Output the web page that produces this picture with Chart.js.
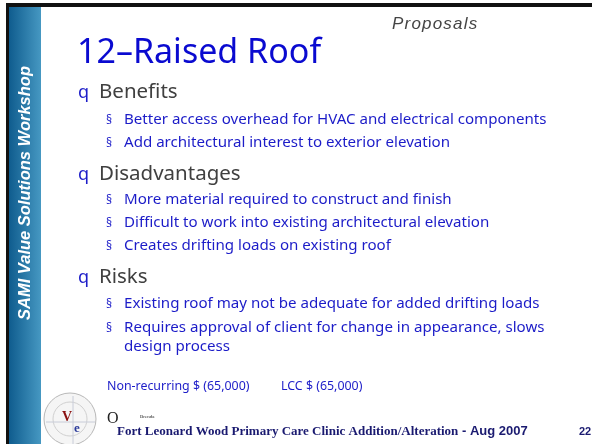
<!DOCTYPE html>
<html>
<head>
<meta charset="utf-8">
<script src="https://cdn.jsdelivr.net/npm/chart.js@4/dist/chart.umd.min.js"></script>
<style>
  html, body { margin: 0; padding: 0; background: #ffffff; }
  #slide { display: block; }
</style>
</head>
<body>
<canvas id="slide" width="592" height="444"></canvas>
<script>
// Textos do slide
const sidebarLabel = "SAMI Value Solutions Workshop";
const sectionLabel = "Proposals";
const titleText = "12–Raised Roof";
const headings = ["Benefits", "Disadvantages", "Risks"];
const benefits = [
  "Better access overhead for HVAC and electrical components",
  "Add architectural interest to exterior elevation"
];
const disadvantages = [
  "More material required to construct and finish",
  "Difficult to work into existing architectural elevation",
  "Creates drifting loads on existing roof"
];
const risks = [
  ["Existing roof may not be adequate for added drifting loads"],
  ["Requires approval of client for change in appearance, slows", "design process"]
];
const costLabels = ["Non-recurring $ (65,000)", "LCC $ (65,000)"];
const footerTitle = "Fort Leonard Wood Primary Care Clinic Addition/Alteration";
const footerDate = " - Aug 2007";
const pageNumber = "22";

const SANS = '"Noto Sans", "DejaVu Sans", sans-serif';
const ARIAL = '"Liberation Sans", Arial, sans-serif';
const SERIF = '"Liberation Serif", "Times New Roman", serif';
const BLUE = "#1c1cc8";

// Plugin que desenha o slide sobre o canvas do Chart.js
const slidePlugin = {
  id: "slide",
  beforeDraw(chart) {
    const ctx = chart.ctx;
    ctx.save();
    ctx.fillStyle = "#ffffff";
    ctx.fillRect(0, 0, 592, 444);

    // barra lateral azul
    const grad = ctx.createLinearGradient(9, 0, 41, 0);
    grad.addColorStop(0, "#0f5c8e");
    grad.addColorStop(1, "#4698c2");
    ctx.fillStyle = grad;
    ctx.fillRect(9, 7, 32, 437);

    // moldura preta
    ctx.fillStyle = "#111111";
    ctx.fillRect(6, 3, 586, 4);
    ctx.fillRect(6, 3, 3, 441);
    ctx.restore();
  },
  afterDraw(chart) {
    const ctx = chart.ctx;
    ctx.save();
    ctx.textBaseline = "alphabetic";

    // texto vertical da barra lateral
    ctx.save();
    ctx.translate(30, 193);
    ctx.rotate(-Math.PI / 2);
    ctx.fillStyle = "#ffffff";
    ctx.font = 'italic bold 16.5px ' + ARIAL;
    ctx.textAlign = "center";
    ctx.fillText(sidebarLabel, 0, 0);
    ctx.restore();

    ctx.fillStyle = "#444444";
    ctx.font = 'italic 17px ' + ARIAL;
    ctx.letterSpacing = "1.2px";
    ctx.fillText(sectionLabel, 392, 29);
    ctx.letterSpacing = "0px";

    ctx.fillStyle = "#0a0ad0";
    ctx.font = '34px ' + SANS;
    ctx.fillText(titleText, 77, 63);

    const sections = [
      { head: headings[0], y: 98, items: benefits.map(t => [t]), ys: [124, 147] },
      { head: headings[1], y: 180, items: disadvantages.map(t => [t]), ys: [204, 227, 250] },
      { head: headings[2], y: 283, items: risks, ys: [308, 332] }
    ];
    sections.forEach(s => {
      ctx.fillStyle = BLUE;
      ctx.font = '18px ' + SANS;
      ctx.fillText("q", 78, s.y);
      ctx.fillStyle = "#404040";
      ctx.font = '20.5px ' + SANS;
      ctx.fillText(s.head, 99, s.y);
      s.items.forEach((lines, i) => {
        ctx.fillStyle = BLUE;
        ctx.font = '12px ' + SANS;
        ctx.fillText("§", 106, s.ys[i]);
        ctx.font = '15.1px ' + SANS;
        lines.forEach((ln, k) => ctx.fillText(ln, 124, s.ys[i] + k * 19));
      });
    });

    // custos
    ctx.fillStyle = BLUE;
    ctx.font = '12.4px ' + SANS;
    ctx.fillText(costLabels[0], 107, 390);
    ctx.fillText(costLabels[1], 281, 390);

    // logotipo
    ctx.save();
    ctx.beginPath();
    ctx.arc(70, 419, 26, 0, Math.PI * 2);
    ctx.fillStyle = "#f5f5f5";
    ctx.fill();
    ctx.strokeStyle = "#b8b8b8";
    ctx.lineWidth = 1;
    ctx.stroke();
    ctx.beginPath();
    ctx.arc(70, 419, 17, 0, Math.PI * 2);
    ctx.strokeStyle = "#d0d0d0";
    ctx.stroke();
    ctx.beginPath();
    ctx.moveTo(46, 422); ctx.lineTo(95, 422);
    ctx.moveTo(73, 396); ctx.lineTo(73, 444);
    ctx.strokeStyle = "#c8ccd8";
    ctx.stroke();
    ctx.font = 'bold 14px ' + SERIF;
    ctx.fillStyle = "#8a1010";
    ctx.fillText("V", 62, 421);
    ctx.fillStyle = "#2a3a9a";
    ctx.font = 'bold 13px ' + SERIF;
    ctx.fillText("e", 74, 432);
    ctx.restore();

    // rodapé
    ctx.fillStyle = "#222222";
    ctx.font = '16px ' + SERIF;
    ctx.fillText("O", 107, 423);
    ctx.font = '5px ' + SERIF;
    ctx.fillText("Brenda", 140, 418);

    ctx.fillStyle = "#1a1a70";
    ctx.font = 'bold 13px ' + SERIF;
    ctx.fillText(footerTitle, 117, 435);
    const w = ctx.measureText(footerTitle).width;
    ctx.font = 'bold 13px ' + ARIAL;
    ctx.fillText(footerDate, 117 + w, 435);
    ctx.font = 'bold 11px ' + ARIAL;
    ctx.fillText(pageNumber, 579, 435);
    ctx.restore();
  }
};

const slideChart = new Chart(document.getElementById("slide").getContext("2d"), {
  type: "scatter",
  data: { datasets: [] },
  options: {
    responsive: false,
    animation: false,
    events: [],
    plugins: { legend: { display: false }, tooltip: { enabled: false } },
    scales: { x: { display: false }, y: { display: false } }
  },
  plugins: [slidePlugin]
});
</script>
</body>
</html>
